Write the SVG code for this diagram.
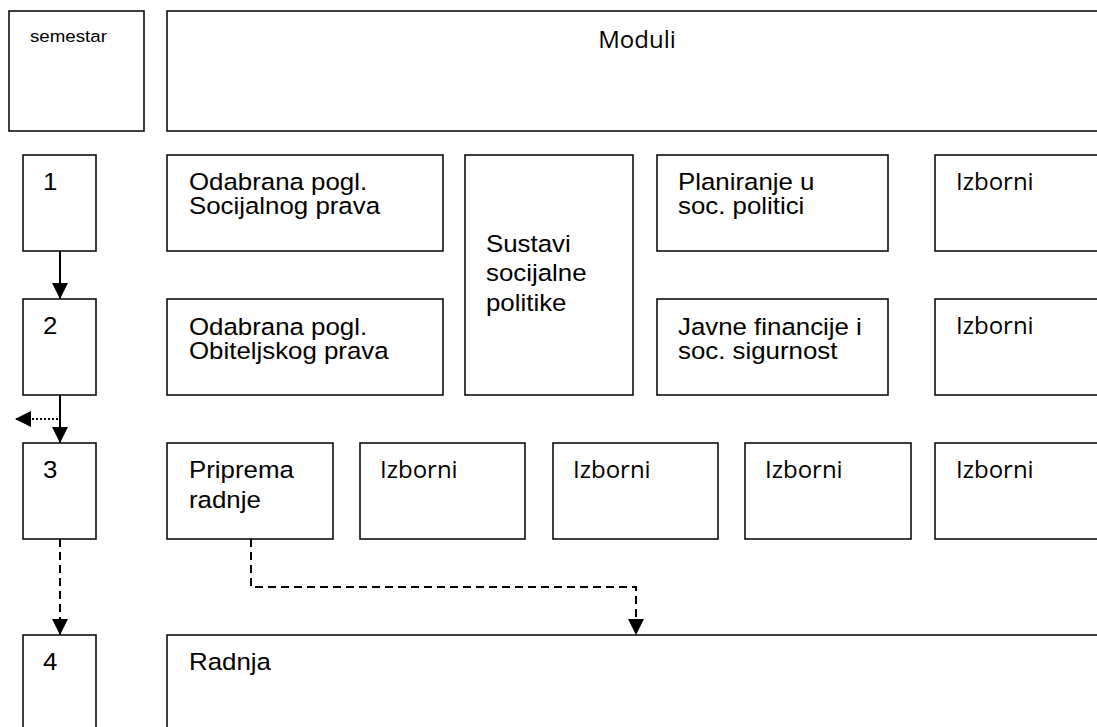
<svg xmlns="http://www.w3.org/2000/svg" width="1097" height="727" viewBox="0 0 1097 727">
<style>
.box{fill:#fff;stroke:#000;stroke-width:1.5}
.t{font-family:"Liberation Sans",Arial,sans-serif;font-size:23.5px;fill:#000}
.s{font-family:"Open Sans","Noto Sans",sans-serif;font-size:24px;fill:#000}
.c{fill:none;stroke:#000;stroke-width:2}
</style>
<defs>
<marker id="ah" viewBox="0 0 10 10" refX="10" refY="5" markerWidth="16" markerHeight="16" markerUnits="userSpaceOnUse" orient="auto">
<path d="M0,0 L10,5 L0,10 Z" fill="#000"/>
</marker>
</defs>
<rect width="1097" height="727" fill="#fff"/>
<g id="semestar"><rect class="box" x="9" y="11" width="135" height="120"/><text class="t" transform="translate(30,42) scale(1.1,1)" style="font-size:17px">semestar</text></g>
<g id="moduli"><rect class="box" x="167" y="11" width="940" height="120"/><text class="s" x="637" y="48" text-anchor="middle">Moduli</text></g>
<g id="sem1"><rect class="box" x="23" y="155" width="73" height="96"/><text class="t" transform="translate(43,190) scale(1.1,1)">1</text></g>
<g id="sem2"><rect class="box" x="23" y="299" width="73" height="96"/><text class="t" transform="translate(43,334) scale(1.1,1)">2</text></g>
<g id="sem3"><rect class="box" x="23" y="443" width="73" height="96"/><text class="t" transform="translate(43,478) scale(1.1,1)">3</text></g>
<g id="sem4"><rect class="box" x="23" y="635" width="73" height="110"/><text class="t" transform="translate(43,670) scale(1.1,1)">4</text></g>
<g id="socpravo"><rect class="box" x="167" y="155" width="276" height="96"/><text class="t" transform="translate(189,190) scale(1.1,1)"><tspan x="0">Odabrana pogl.</tspan><tspan x="0" dy="24.5">Socijalnog prava</tspan></text></g>
<g id="obpravo"><rect class="box" x="167" y="299" width="276" height="96"/><text class="t" transform="translate(189,335) scale(1.1,1)"><tspan x="0">Odabrana pogl.</tspan><tspan x="0" dy="24.5">Obiteljskog prava</tspan></text></g>
<g id="sustavi"><rect class="box" x="465" y="155" width="168" height="240"/><text class="t" transform="translate(486,252) scale(1.1,1)"><tspan x="0">Sustavi</tspan><tspan x="0" dy="29.5">socijalne</tspan><tspan x="0" dy="29.5">politike</tspan></text></g>
<g id="planiranje"><rect class="box" x="657" y="155" width="231" height="96"/><text class="t" transform="translate(678,190) scale(1.1,1)"><tspan x="0">Planiranje u</tspan><tspan x="0" dy="24.5">soc. politici</tspan></text></g>
<g id="javne"><rect class="box" x="657" y="299" width="231" height="96"/><text class="t" transform="translate(678,335) scale(1.1,1)"><tspan x="0">Javne financije i</tspan><tspan x="0" dy="24.5">soc. sigurnost</tspan></text></g>
<g id="izb1"><rect class="box" x="935" y="155" width="180" height="96"/><text class="s" x="956" y="190">Izborni</text></g>
<g id="izb2"><rect class="box" x="935" y="299" width="180" height="96"/><text class="s" x="956" y="334">Izborni</text></g>
<g id="priprema"><rect class="box" x="167" y="443" width="166" height="96"/><text class="t" transform="translate(189,478) scale(1.1,1)"><tspan x="0">Priprema</tspan><tspan x="0" dy="30">radnje</tspan></text></g>
<g id="izb3"><rect class="box" x="360" y="443" width="165" height="96"/><text class="s" x="380" y="478">Izborni</text></g>
<g id="izb4"><rect class="box" x="553" y="443" width="165" height="96"/><text class="s" x="573" y="478">Izborni</text></g>
<g id="izb5"><rect class="box" x="745" y="443" width="166" height="96"/><text class="s" x="765" y="478">Izborni</text></g>
<g id="izb6"><rect class="box" x="935" y="443" width="180" height="96"/><text class="s" x="956" y="478">Izborni</text></g>
<g id="radnja"><rect class="box" x="167" y="635" width="940" height="110"/><text class="t" transform="translate(189,670) scale(1.1,1)">Radnja</text></g>
<g id="connectors">
<line class="c" x1="60" y1="251" x2="60" y2="299" marker-end="url(#ah)"/>
<line class="c" x1="60" y1="395" x2="60" y2="443" marker-end="url(#ah)"/>
<line class="c" x1="58" y1="419" x2="15" y2="419" stroke-dasharray="2,2" marker-end="url(#ah)"/>
<line class="c" x1="60" y1="539" x2="60" y2="635" stroke-dasharray="8,5" marker-end="url(#ah)"/>
<polyline class="c" points="251,539 251,587 636,587 636,635" stroke-dasharray="8,5" marker-end="url(#ah)"/>
</g>
</svg>
